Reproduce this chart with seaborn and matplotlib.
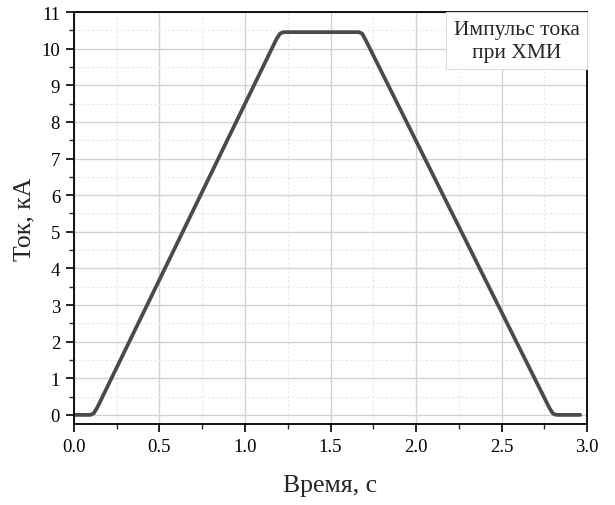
import matplotlib
matplotlib.use("Agg")
import matplotlib.pyplot as plt
from matplotlib.ticker import MultipleLocator
from matplotlib.offsetbox import AnchoredText
import pandas as pd
import seaborn as sns

# Current pulse waveform: time (s) and current (kA)
time_s = [0.0, 0.095, 0.115, 0.135, 1.185, 1.205, 1.225, 1.665, 1.685, 1.705,
          2.78, 2.80, 2.82, 2.96]
current_ka = [0.0, 0.0, 0.04, 0.19, 10.27, 10.41, 10.45, 10.45, 10.41, 10.24,
              0.19, 0.04, 0.0, 0.0]

x_label = "Время, с"
y_label = "Ток, кА"
note = "Импульс тока\nпри ХМИ"

sns.set_style("ticks")
plt.rcParams["font.family"] = ["Liberation Serif", "DejaVu Serif"]

df = pd.DataFrame({"t": time_s, "i": current_ka})

fig = plt.figure(figsize=(6.15, 5.06), dpi=100)
ax = fig.add_axes([0.1203, 0.160, 0.8342, 0.8143])

ax.set_axisbelow(True)
ax.xaxis.set_major_locator(MultipleLocator(0.5))
ax.xaxis.set_minor_locator(MultipleLocator(0.25))
ax.yaxis.set_major_locator(MultipleLocator(1))
ax.yaxis.set_minor_locator(MultipleLocator(0.5))
ax.grid(which="major", color="#d2d2d2", linewidth=1.0, linestyle="-")
ax.grid(which="minor", color="#e6e6e6", linewidth=0.8, linestyle=(0, (2, 2)))

sns.lineplot(data=df, x="t", y="i", ax=ax, color="#4a4a4a", linewidth=2.7,
             solid_capstyle="round", solid_joinstyle="round")

ax.set_xlim(0, 3.0)
ax.set_ylim(-0.25, 11)
ax.set_xticks([0, 0.5, 1.0, 1.5, 2.0, 2.5, 3.0])
ax.set_xticklabels(["0.0", "0.5", "1.0", "1.5", "2.0", "2.5", "3.0"])

for s in ax.spines.values():
    s.set_color("black")
    s.set_linewidth(1.3)

ax.tick_params(which="major", direction="out", length=6, width=1.2, labelsize=13.5,
               colors="black", pad=4)
ax.tick_params(which="minor", direction="out", length=3.5, width=1.0)

ax.set_xlabel(x_label, fontsize=18.5, labelpad=14)
ax.set_ylabel(y_label, fontsize=18.5, labelpad=4)

box = AnchoredText(note, loc="upper right", pad=0.35, borderpad=0, frameon=True,
                   prop=dict(size=15.5, multialignment="center", linespacing=1.3))
box.patch.set_facecolor("white")
box.patch.set_edgecolor("#dcdcdc")
box.patch.set_linewidth(0.8)
ax.add_artist(box)

fig.savefig("out.png", dpi=100)
